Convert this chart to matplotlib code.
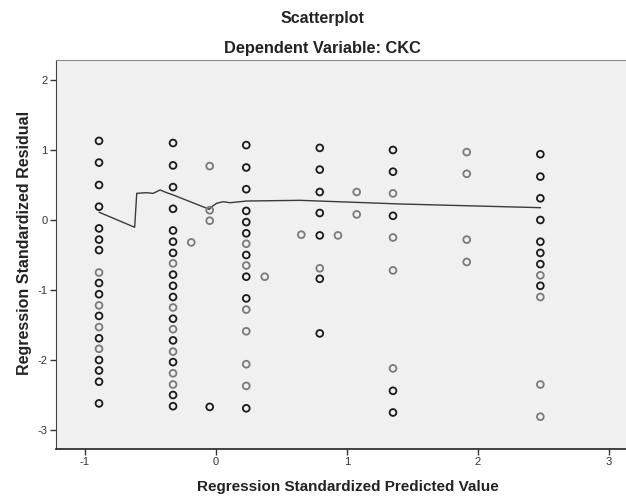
import matplotlib
matplotlib.use('Agg')
import matplotlib.pyplot as plt

# x positions (standardized predicted value) of the point groups
PRED = [-0.893, -0.328, -0.048, -0.189, 0.231, 0.372, 0.651, 0.792,
        0.931, 1.074, 1.351, 1.914, 2.476]

# standardized residuals for each x position
RESID = [
    [1.13, 0.82, 0.50, 0.19, -0.12, -0.28, -0.43, -0.75, -0.90, -1.06,
     -1.22, -1.37, -1.53, -1.69, -1.84, -2.00, -2.15, -2.31, -2.62],
    [1.10, 0.78, 0.47, 0.16, -0.15, -0.31, -0.47, -0.62, -0.78, -0.94,
     -1.10, -1.25, -1.41, -1.56, -1.72, -1.88, -2.03, -2.19, -2.35, -2.50, -2.66],
    [0.77, 0.14, -0.01, -2.67],
    [-0.32],
    [1.07, 0.75, 0.44, 0.13, -0.03, -0.19, -0.34, -0.50, -0.65, -0.81,
     -1.12, -1.28, -1.59, -2.06, -2.37, -2.69],
    [-0.81],
    [-0.21],
    [1.03, 0.72, 0.40, 0.10, -0.22, -0.69, -0.84, -1.62],
    [-0.22],
    [0.40, 0.08],
    [1.00, 0.69, 0.38, 0.06, -0.25, -0.72, -2.12, -2.44, -2.75],
    [0.97, 0.66, -0.28, -0.60],
    [0.94, 0.62, 0.31, 0.00, -0.31, -0.47, -0.63, -0.79, -0.94, -1.10, -2.35, -2.81],
]

# number of overlapping cases per point (more cases -> darker circle)
CASES = [
    [2, 2, 2, 2, 2, 2, 2, 1, 2, 2, 1, 2, 1, 2, 1, 2, 2, 2, 2],
    [2, 2, 2, 2, 2, 2, 2, 1, 2, 2, 2, 1, 2, 1, 2, 1, 2, 1, 1, 2, 2],
    [1, 1, 1, 2],
    [1],
    [2, 2, 2, 2, 2, 2, 1, 2, 1, 2, 2, 1, 1, 1, 1, 2],
    [1],
    [1],
    [2, 2, 2, 2, 2, 1, 2, 2],
    [1],
    [1, 1],
    [2, 2, 1, 2, 1, 1, 1, 2, 2],
    [1, 1, 1, 1],
    [2, 2, 2, 2, 2, 2, 2, 1, 2, 1, 1, 1],
]

# loess fit line
LOESS_X = [-0.891, -0.621, -0.605, -0.534, -0.479, -0.427, -0.376, -0.326,
           -0.051, -0.033, 0.005, 0.056, 0.107, 0.183, 0.229, 0.641, 1.405, 2.476]
LOESS_Y = [0.11, -0.104, 0.381, 0.39, 0.381, 0.429, 0.39, 0.357,
           0.153, 0.19, 0.239, 0.261, 0.247, 0.261, 0.271, 0.281, 0.229, 0.176]

plt.rcParams['font.family'] = ['Liberation Sans', 'DejaVu Sans']
plt.rcParams['axes.unicode_minus'] = False

fig = plt.figure(figsize=(6.26, 4.99), dpi=100)
ax = fig.add_axes([56 / 626, 1 - 449 / 499, 590 / 626, 389 / 499])
ax.set_facecolor('#f0f0f0')

xs, ys, cols = [], [], []
for px, res, cnt in zip(PRED, RESID, CASES):
    for r, c in zip(res, cnt):
        xs.append(px)
        ys.append(r)
        cols.append('#1a1a1a' if c > 1 else '#7a7a7a')

ax.plot(LOESS_X, LOESS_Y, color='#3a3a3a', linewidth=1.0, zorder=2)
ax.scatter(xs, ys, s=24, facecolors='none', edgecolors=cols,
           linewidths=1.3, zorder=3)

# 131 px per unit on x, 70 px per unit on y
ax.set_xlim(-1 - 29 / 131, -1 + 561 / 131)
ax.set_ylim(-3 - 19 / 70, 2 + 20 / 70)
ax.set_xticks([-1, 0, 1, 2, 3])
ax.set_yticks([-3, -2, -1, 0, 1, 2])
ax.tick_params(direction='out', length=4, width=1, colors='#333333',
               labelsize=8, labelcolor='#333333', pad=2)

for side in ['top', 'right']:
    ax.spines[side].set_color('#8a8a8a')
ax.spines['left'].set_color('#444444')
ax.spines['bottom'].set_color('#222222')
ax.spines['bottom'].set_linewidth(1.2)

fig.text(322 / 626, 1 - 19 / 499, 'Scatterplot', ha='center', va='center',
         fontsize=11.5, fontweight='bold', color='#222222')
fig.text(322 / 626, 1 - 48 / 499, 'Dependent Variable: CKC', ha='center',
         va='center', fontsize=11.8, fontweight='bold', color='#222222')
fig.text(348 / 626, 1 - 487 / 499, 'Regression Standardized Predicted Value',
         ha='center', va='center', fontsize=11, fontweight='bold', color='#222222')
fig.text(25 / 626, 1 - 243 / 499, 'Regression Standardized Residual',
         ha='center', va='center', rotation=90, fontsize=11.5,
         fontweight='bold', color='#222222')

fig.savefig('out.png', dpi=100)
plt.close(fig)
